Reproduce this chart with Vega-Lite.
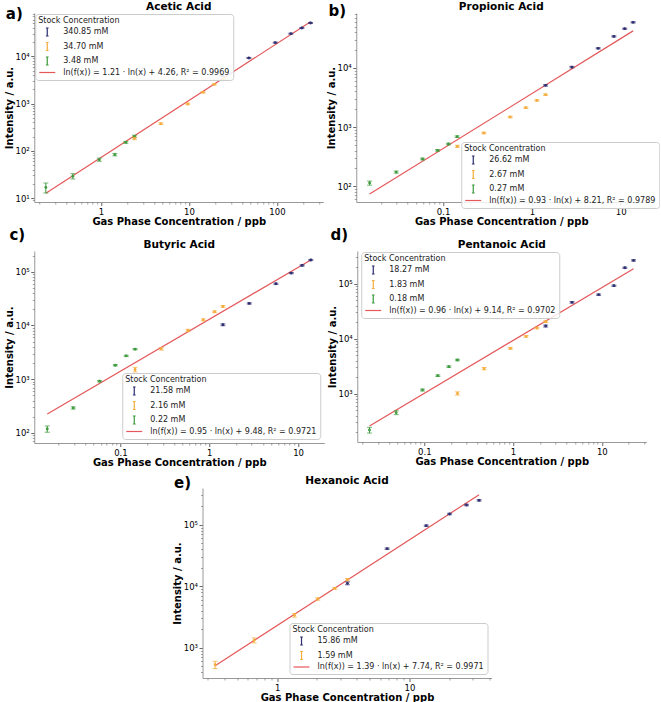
{
"$schema": "https://vega.github.io/schema/vega-lite/v6.json",
"padding": {"left": 4, "top": 2, "right": 0, "bottom": 0},
"background": "white",
"config": {
  "view": {"stroke": null},
  "font": "DejaVu Sans",
  "axis": {"labelFont": "DejaVu Sans", "labelFontSize": 8.5, "labelColor": "#000", "titleFont": "DejaVu Sans", "titleFontSize": 10, "titleFontWeight": "bold", "titleColor": "#000", "grid": false, "domainColor": "#999", "tickColor": "#666", "tickSize": 3.5, "labelPadding": 1.5, "titlePadding": 1},
  "legend": {"titleFont": "DejaVu Sans", "titleFontSize": 8, "titleFontWeight": "normal", "titleColor": "#222", "labelFont": "DejaVu Sans", "labelFontSize": 8, "labelColor": "#222", "labelLimit": 300, "fillColor": "rgba(255,255,255,0.85)", "strokeColor": "#ccc", "cornerRadius": 3, "padding": 3, "titlePadding": 3, "rowPadding": 0.5, "symbolSize": 36, "labelOffset": 17, "symbolStrokeWidth": 1.2, "symbolOpacity": 1},
  "text": {"font": "DejaVu Sans", "fontWeight": "bold", "color": "#000", "align": "center", "baseline": "middle"}
},
"center": true,
"spacing": 8,
"resolve": {"scale": {"color": "independent", "x": "independent", "y": "independent"}, "legend": {"color": "independent"}},
"vconcat": [
{"spacing": 0,
 "resolve": {"scale": {"color": "independent", "x": "independent", "y": "independent"}, "legend": {"color": "independent"}},
 "vconcat": [
 {"hconcat": [
  {"width": 289, "height": 189,
   "data": {"values": [
    {"k":"pt","s":"3.48 mM","x":0.237,"y":16.8,"lo":12.8,"hi":20.8},
    {"k":"pt","s":"3.48 mM","x":0.48,"y":29,"lo":25.3,"hi":32.8},
    {"k":"pt","s":"3.48 mM","x":0.96,"y":65,"lo":60,"hi":70},
    {"k":"pt","s":"3.48 mM","x":1.44,"y":83,"lo":78,"hi":88},
    {"k":"pt","s":"3.48 mM","x":1.92,"y":151,"lo":144,"hi":158},
    {"k":"pt","s":"3.48 mM","x":2.41,"y":202,"lo":190,"hi":214},
    {"k":"pt","s":"34.70 mM","x":2.41,"y":184,"lo":172,"hi":196},
    {"k":"pt","s":"34.70 mM","x":4.8,"y":375,"lo":360,"hi":390},
    {"k":"pt","s":"34.70 mM","x":9.7,"y":980,"lo":945,"hi":1015},
    {"k":"pt","s":"34.70 mM","x":14.5,"y":1730,"lo":1680,"hi":1780},
    {"k":"pt","s":"34.70 mM","x":19.4,"y":2550,"lo":2480,"hi":2620},
    {"k":"pt","s":"34.70 mM","x":24.6,"y":3370,"lo":3270,"hi":3470},
    {"k":"pt","s":"340.85 mM","x":23.9,"y":3960,"lo":3840,"hi":4080},
    {"k":"pt","s":"340.85 mM","x":48,"y":9220,"lo":9000,"hi":9440},
    {"k":"pt","s":"340.85 mM","x":95.7,"y":19500,"lo":19000,"hi":20000},
    {"k":"pt","s":"340.85 mM","x":144,"y":30200,"lo":29500,"hi":30900},
    {"k":"pt","s":"340.85 mM","x":192,"y":39800,"lo":38900,"hi":40700},
    {"k":"pt","s":"340.85 mM","x":241,"y":50800,"lo":49600,"hi":52000},
    {"k":"fit","s":"ln(f(x)) = 1.21 · ln(x) + 4.26, R² = 0.9969","x":0.237,"y":12.6},
    {"k":"fit","s":"ln(f(x)) = 1.21 · ln(x) + 4.26, R² = 0.9969","x":241,"y":54000}
   ]},
   "resolve": {"axis": {"x": "independent", "y": "independent"}},
   "layer": [
    {"transform": [{"filter": "datum.k=='fit'"}],
     "mark": {"type": "line", "strokeWidth": 1.2},
     "encoding": {
      "x": {"field": "x", "type": "quantitative", "scale": {"type": "log", "domain": [0.175, 336], "nice": false}, "axis": {"orient": "bottom", "title": "Gas Phase Concentration / ppb", "values": [1, 10, 100], "labelExpr": "''+datum.value"}},
      "y": {"field": "y", "type": "quantitative", "scale": {"type": "log", "domain": [8.24, 82600], "nice": false}, "axis": {"orient": "left", "title": "Intensity / a.u.", "values": [10, 100, 1000, 10000], "labelExpr": "datum.value==10?'10¹':datum.value==100?'10²':datum.value==1000?'10³':datum.value==10000?'10⁴':'10⁵'"}},
      "color": {"field": "s", "type": "nominal", "scale": {"domain": ["340.85 mM", "34.70 mM", "3.48 mM", "ln(f(x)) = 1.21 · ln(x) + 4.26, R² = 0.9969"], "range": ["#2e2e72", "#f5ac3b", "#3c9a3c", "#e4585a"]},
        "legend": {"title": "Stock Concentration", "orient": "top-left", "offset": 1,
          "encode": {"symbols": {"update": {
            "shape": {"signal": "indexof(datum.value,'ln')==0 ? 'M-1,0H4.33' : 'M1.22,-1.33H2.12M1.67,-1.33V1.33M1.22,1.33H2.12'"},
            "stroke": {"signal": "datum.value=='340.85 mM'?'#2e2e72':datum.value=='34.70 mM'?'#f5ac3b':datum.value=='3.48 mM'?'#3c9a3c':'#e4585a'"},
            "fill": {"value": "transparent"}, "strokeWidth": {"value": 1.2}, "opacity": {"value": 1}}}}}}
     }},
    {"transform": [{"filter": "datum.k=='fit'"}],
     "mark": {"type": "point", "opacity": 0},
     "encoding": {
      "x": {"field": "x", "type": "quantitative", "axis": {"orient": "bottom", "title": null, "labels": false, "domain": false, "tickSize": 2, "tickWidth": 0.6, "values": [0.2,0.3,0.4,0.5,0.6,0.7,0.8,0.9,2,3,4,5,6,7,8,9,20,30,40,50,60,70,80,90,200,300]}},
      "y": {"field": "y", "type": "quantitative", "axis": {"orient": "left", "title": null, "labels": false, "domain": false, "tickSize": 2, "tickWidth": 0.6, "values": [9,20,30,40,50,60,70,80,90,200,300,400,500,600,700,800,900,2000,3000,4000,5000,6000,7000,8000,9000,20000,30000,40000,50000,60000,70000,80000]}}
     }},
    {"transform": [{"filter": "datum.k=='pt'"}],
     "mark": {"type": "errorbar", "ticks": {"size": 5}, "thickness": 1},
     "encoding": {
      "x": {"field": "x", "type": "quantitative", "axis": null},
      "y": {"field": "lo", "type": "quantitative", "axis": null},
      "y2": {"field": "hi"},
      "color": {"field": "s", "type": "nominal"}
     }},
    {"transform": [{"filter": "datum.k=='pt'"}],
     "mark": {"type": "point", "filled": true, "size": 8, "opacity": 1},
     "encoding": {
      "x": {"field": "x", "type": "quantitative", "axis": null},
      "y": {"field": "y", "type": "quantitative", "axis": null},
      "color": {"field": "s", "type": "nominal"}
     }},
    {"data": {"values": [{"t": "Acetic Acid"}]},
     "mark": {"type": "text", "fontSize": 10.5, "dy": -6},
     "encoding": {"x": {"datum": 7.668, "type": "quantitative", "axis": null}, "y": {"datum": 82600, "type": "quantitative", "axis": null}, "text": {"field": "t"}}},
    {"data": {"values": [{"t": "a)"}]},
     "mark": {"type": "text", "fontSize": 15, "dx": -20, "dy": 0.5},
     "encoding": {"x": {"datum": 0.175, "type": "quantitative", "axis": null}, "y": {"datum": 82600, "type": "quantitative", "axis": null}, "text": {"field": "t"}}}
   ]},
  {"width": 290, "height": 189,
   "data": {"values": [
    {"k":"pt","s":"0.27 mM","x":0.0149,"y":113,"lo":104,"hi":122},
    {"k":"pt","s":"0.27 mM","x":0.0297,"y":173,"lo":166,"hi":180},
    {"k":"pt","s":"0.27 mM","x":0.0588,"y":288,"lo":278,"hi":298},
    {"k":"pt","s":"0.27 mM","x":0.0867,"y":403,"lo":390,"hi":416},
    {"k":"pt","s":"0.27 mM","x":0.115,"y":516,"lo":500,"hi":532},
    {"k":"pt","s":"0.27 mM","x":0.144,"y":687,"lo":665,"hi":709},
    {"k":"pt","s":"2.67 mM","x":0.145,"y":471,"lo":450,"hi":492},
    {"k":"pt","s":"2.67 mM","x":0.288,"y":793,"lo":770,"hi":816},
    {"k":"pt","s":"2.67 mM","x":0.57,"y":1475,"lo":1435,"hi":1515},
    {"k":"pt","s":"2.67 mM","x":0.856,"y":2120,"lo":2060,"hi":2180},
    {"k":"pt","s":"2.67 mM","x":1.14,"y":2820,"lo":2740,"hi":2900},
    {"k":"pt","s":"2.67 mM","x":1.426,"y":3520,"lo":3420,"hi":3620},
    {"k":"pt","s":"26.62 mM","x":1.426,"y":5060,"lo":4920,"hi":5200},
    {"k":"pt","s":"26.62 mM","x":2.82,"y":10300,"lo":10000,"hi":10600},
    {"k":"pt","s":"26.62 mM","x":5.58,"y":21400,"lo":20900,"hi":21900},
    {"k":"pt","s":"26.62 mM","x":8.38,"y":34000,"lo":33200,"hi":34800},
    {"k":"pt","s":"26.62 mM","x":11.1,"y":45900,"lo":44900,"hi":46900},
    {"k":"pt","s":"26.62 mM","x":13.8,"y":58800,"lo":57400,"hi":60200},
    {"k":"fit","s":"ln(f(x)) = 0.93 · ln(x) + 8.21, R² = 0.9789","x":0.0149,"y":73.6},
    {"k":"fit","s":"ln(f(x)) = 0.93 · ln(x) + 8.21, R² = 0.9789","x":13.8,"y":42200}
   ]},
   "resolve": {"axis": {"x": "independent", "y": "independent"}},
   "layer": [
    {"transform": [{"filter": "datum.k=='fit'"}],
     "mark": {"type": "line", "strokeWidth": 1.2},
     "encoding": {
      "x": {"field": "x", "type": "quantitative", "scale": {"type": "log", "domain": [0.01054, 19.4], "nice": false}, "axis": {"orient": "bottom", "title": "Gas Phase Concentration / ppb", "values": [0.1, 1, 10], "labelExpr": "''+datum.value"}},
      "y": {"field": "y", "type": "quantitative", "scale": {"type": "log", "domain": [54, 84600], "nice": false}, "axis": {"orient": "left", "title": "Intensity / a.u.", "values": [100, 1000, 10000], "labelExpr": "datum.value==10?'10¹':datum.value==100?'10²':datum.value==1000?'10³':datum.value==10000?'10⁴':'10⁵'"}},
      "color": {"field": "s", "type": "nominal", "scale": {"domain": ["26.62 mM", "2.67 mM", "0.27 mM", "ln(f(x)) = 0.93 · ln(x) + 8.21, R² = 0.9789"], "range": ["#2e2e72", "#f5ac3b", "#3c9a3c", "#e4585a"]},
        "legend": {"title": "Stock Concentration", "orient": "none", "legendX": 105, "legendY": 129,
          "encode": {"symbols": {"update": {
            "shape": {"signal": "indexof(datum.value,'ln')==0 ? 'M-1,0H4.33' : 'M1.22,-1.33H2.12M1.67,-1.33V1.33M1.22,1.33H2.12'"},
            "stroke": {"signal": "datum.value=='26.62 mM'?'#2e2e72':datum.value=='2.67 mM'?'#f5ac3b':datum.value=='0.27 mM'?'#3c9a3c':'#e4585a'"},
            "fill": {"value": "transparent"}, "strokeWidth": {"value": 1.2}, "opacity": {"value": 1}}}}}}
     }},
    {"transform": [{"filter": "datum.k=='fit'"}],
     "mark": {"type": "point", "opacity": 0},
     "encoding": {
      "x": {"field": "x", "type": "quantitative", "axis": {"orient": "bottom", "title": null, "labels": false, "domain": false, "tickSize": 2, "tickWidth": 0.6, "values": [0.02,0.03,0.04,0.05,0.06,0.07,0.08,0.09,0.2,0.3,0.4,0.5,0.6,0.7,0.8,0.9,2,3,4,5,6,7,8,9]}},
      "y": {"field": "y", "type": "quantitative", "axis": {"orient": "left", "title": null, "labels": false, "domain": false, "tickSize": 2, "tickWidth": 0.6, "values": [60,70,80,90,200,300,400,500,600,700,800,900,2000,3000,4000,5000,6000,7000,8000,9000,20000,30000,40000,50000,60000,70000,80000]}}
     }},
    {"transform": [{"filter": "datum.k=='pt'"}],
     "mark": {"type": "errorbar", "ticks": {"size": 5}, "thickness": 1},
     "encoding": {
      "x": {"field": "x", "type": "quantitative", "axis": null},
      "y": {"field": "lo", "type": "quantitative", "axis": null},
      "y2": {"field": "hi"},
      "color": {"field": "s", "type": "nominal"}
     }},
    {"transform": [{"filter": "datum.k=='pt'"}],
     "mark": {"type": "point", "filled": true, "size": 8, "opacity": 1},
     "encoding": {
      "x": {"field": "x", "type": "quantitative", "axis": null},
      "y": {"field": "y", "type": "quantitative", "axis": null},
      "color": {"field": "s", "type": "nominal"}
     }},
    {"data": {"values": [{"t": "Propionic Acid"}]},
     "mark": {"type": "text", "fontSize": 10.5, "dy": -6},
     "encoding": {"x": {"datum": 0.4522, "type": "quantitative", "axis": null}, "y": {"datum": 84600, "type": "quantitative", "axis": null}, "text": {"field": "t"}}},
    {"data": {"values": [{"t": "b)"}]},
     "mark": {"type": "text", "fontSize": 15, "dx": -19, "dy": -2},
     "encoding": {"x": {"datum": 0.01054, "type": "quantitative", "axis": null}, "y": {"datum": 84600, "type": "quantitative", "axis": null}, "text": {"field": "t"}}}
   ]}
 ], "spacing": 2, "resolve": {"scale": {"color": "independent", "x": "independent", "y": "independent"}, "legend": {"color": "independent"}}},
 {"hconcat": [
  {"width": 290, "height": 192,
   "data": {"values": [
    {"k":"pt","s":"0.22 mM","x":0.015,"y":119,"lo":103,"hi":135},
    {"k":"pt","s":"0.22 mM","x":0.0294,"y":292,"lo":278,"hi":306},
    {"k":"pt","s":"0.22 mM","x":0.0582,"y":919,"lo":890,"hi":948},
    {"k":"pt","s":"0.22 mM","x":0.0875,"y":1820,"lo":1765,"hi":1875},
    {"k":"pt","s":"0.22 mM","x":0.116,"y":2720,"lo":2640,"hi":2800},
    {"k":"pt","s":"0.22 mM","x":0.146,"y":3620,"lo":3520,"hi":3720},
    {"k":"pt","s":"2.16 mM","x":0.146,"y":1515,"lo":1370,"hi":1660},
    {"k":"pt","s":"2.16 mM","x":0.288,"y":3670,"lo":3480,"hi":3860},
    {"k":"pt","s":"2.16 mM","x":0.575,"y":8070,"lo":7650,"hi":8490},
    {"k":"pt","s":"2.16 mM","x":0.856,"y":12750,"lo":12200,"hi":13300},
    {"k":"pt","s":"2.16 mM","x":1.148,"y":18000,"lo":17300,"hi":18700},
    {"k":"pt","s":"2.16 mM","x":1.425,"y":22600,"lo":21700,"hi":23500},
    {"k":"pt","s":"21.58 mM","x":1.425,"y":10300,"lo":9900,"hi":10700},
    {"k":"pt","s":"21.58 mM","x":2.82,"y":25700,"lo":25000,"hi":26400},
    {"k":"pt","s":"21.58 mM","x":5.63,"y":59700,"lo":58000,"hi":61400},
    {"k":"pt","s":"21.58 mM","x":8.38,"y":94400,"lo":91800,"hi":97000},
    {"k":"pt","s":"21.58 mM","x":11.1,"y":131000,"lo":127500,"hi":134500},
    {"k":"pt","s":"21.58 mM","x":13.9,"y":165000,"lo":160500,"hi":169500},
    {"k":"fit","s":"ln(f(x)) = 0.95 · ln(x) + 9.48, R² = 0.9721","x":0.015,"y":225},
    {"k":"fit","s":"ln(f(x)) = 0.95 · ln(x) + 9.48, R² = 0.9721","x":13.9,"y":165000}
   ]},
   "resolve": {"axis": {"x": "independent", "y": "independent"}},
   "layer": [
    {"transform": [{"filter": "datum.k=='fit'"}],
     "mark": {"type": "line", "strokeWidth": 1.2},
     "encoding": {
      "x": {"field": "x", "type": "quantitative", "scale": {"type": "log", "domain": [0.0107, 19.7], "nice": false}, "axis": {"orient": "bottom", "title": "Gas Phase Concentration / ppb", "values": [0.1, 1, 10], "labelExpr": "''+datum.value"}},
      "y": {"field": "y", "type": "quantitative", "scale": {"type": "log", "domain": [65, 243000], "nice": false}, "axis": {"orient": "left", "title": "Intensity / a.u.", "values": [100, 1000, 10000, 100000], "labelExpr": "datum.value==10?'10¹':datum.value==100?'10²':datum.value==1000?'10³':datum.value==10000?'10⁴':'10⁵'"}},
      "color": {"field": "s", "type": "nominal", "scale": {"domain": ["21.58 mM", "2.16 mM", "0.22 mM", "ln(f(x)) = 0.95 · ln(x) + 9.48, R² = 0.9721"], "range": ["#2e2e72", "#f5ac3b", "#3c9a3c", "#e4585a"]},
        "legend": {"title": "Stock Concentration", "orient": "bottom-right", "offset": 4,
          "encode": {"symbols": {"update": {
            "shape": {"signal": "indexof(datum.value,'ln')==0 ? 'M-1,0H4.33' : 'M1.22,-1.33H2.12M1.67,-1.33V1.33M1.22,1.33H2.12'"},
            "stroke": {"signal": "datum.value=='21.58 mM'?'#2e2e72':datum.value=='2.16 mM'?'#f5ac3b':datum.value=='0.22 mM'?'#3c9a3c':'#e4585a'"},
            "fill": {"value": "transparent"}, "strokeWidth": {"value": 1.2}, "opacity": {"value": 1}}}}}}
     }},
    {"transform": [{"filter": "datum.k=='fit'"}],
     "mark": {"type": "point", "opacity": 0},
     "encoding": {
      "x": {"field": "x", "type": "quantitative", "axis": {"orient": "bottom", "title": null, "labels": false, "domain": false, "tickSize": 2, "tickWidth": 0.6, "values": [0.02,0.03,0.04,0.05,0.06,0.07,0.08,0.09,0.2,0.3,0.4,0.5,0.6,0.7,0.8,0.9,2,3,4,5,6,7,8,9]}},
      "y": {"field": "y", "type": "quantitative", "axis": {"orient": "left", "title": null, "labels": false, "domain": false, "tickSize": 2, "tickWidth": 0.6, "values": [70,80,90,200,300,400,500,600,700,800,900,2000,3000,4000,5000,6000,7000,8000,9000,20000,30000,40000,50000,60000,70000,80000,90000,200000]}}
     }},
    {"transform": [{"filter": "datum.k=='pt'"}],
     "mark": {"type": "errorbar", "ticks": {"size": 5}, "thickness": 1},
     "encoding": {
      "x": {"field": "x", "type": "quantitative", "axis": null},
      "y": {"field": "lo", "type": "quantitative", "axis": null},
      "y2": {"field": "hi"},
      "color": {"field": "s", "type": "nominal"}
     }},
    {"transform": [{"filter": "datum.k=='pt'"}],
     "mark": {"type": "point", "filled": true, "size": 8, "opacity": 1},
     "encoding": {
      "x": {"field": "x", "type": "quantitative", "axis": null},
      "y": {"field": "y", "type": "quantitative", "axis": null},
      "color": {"field": "s", "type": "nominal"}
     }},
    {"data": {"values": [{"t": "Butyric Acid"}]},
     "mark": {"type": "text", "fontSize": 10.5, "dy": -6},
     "encoding": {"x": {"datum": 0.4591, "type": "quantitative", "axis": null}, "y": {"datum": 243000, "type": "quantitative", "axis": null}, "text": {"field": "t"}}},
    {"data": {"values": [{"t": "c)"}]},
     "mark": {"type": "text", "fontSize": 15, "dx": -17, "dy": -16.5},
     "encoding": {"x": {"datum": 0.0107, "type": "quantitative", "axis": null}, "y": {"datum": 243000, "type": "quantitative", "axis": null}, "text": {"field": "t"}}}
   ]},
  {"width": 289, "height": 191,
   "data": {"values": [
    {"k":"pt","s":"0.18 mM","x":0.0241,"y":218,"lo":192,"hi":244},
    {"k":"pt","s":"0.18 mM","x":0.0482,"y":452,"lo":415,"hi":489},
    {"k":"pt","s":"0.18 mM","x":0.0954,"y":1166,"lo":1120,"hi":1212},
    {"k":"pt","s":"0.18 mM","x":0.142,"y":2120,"lo":2050,"hi":2190},
    {"k":"pt","s":"0.18 mM","x":0.189,"y":3100,"lo":3000,"hi":3200},
    {"k":"pt","s":"0.18 mM","x":0.236,"y":4090,"lo":3960,"hi":4220},
    {"k":"pt","s":"1.83 mM","x":0.236,"y":1010,"lo":940,"hi":1080},
    {"k":"pt","s":"1.83 mM","x":0.472,"y":2850,"lo":2710,"hi":2990},
    {"k":"pt","s":"1.83 mM","x":0.933,"y":6670,"lo":6400,"hi":6940},
    {"k":"pt","s":"1.83 mM","x":1.4,"y":11000,"lo":10600,"hi":11400},
    {"k":"pt","s":"1.83 mM","x":1.86,"y":15600,"lo":15100,"hi":16100},
    {"k":"pt","s":"1.83 mM","x":2.33,"y":20400,"lo":19700,"hi":21100},
    {"k":"pt","s":"18.27 mM","x":2.33,"y":17000,"lo":16300,"hi":17700},
    {"k":"pt","s":"18.27 mM","x":4.62,"y":45800,"lo":44300,"hi":47300},
    {"k":"pt","s":"18.27 mM","x":9.21,"y":63100,"lo":61300,"hi":64900},
    {"k":"pt","s":"18.27 mM","x":13.7,"y":92000,"lo":89500,"hi":94500},
    {"k":"pt","s":"18.27 mM","x":18.2,"y":195000,"lo":190000,"hi":200000},
    {"k":"pt","s":"18.27 mM","x":22.8,"y":265000,"lo":258000,"hi":272000},
    {"k":"fit","s":"ln(f(x)) = 0.96 · ln(x) + 9.14, R² = 0.9702","x":0.0241,"y":258},
    {"k":"fit","s":"ln(f(x)) = 0.96 · ln(x) + 9.14, R² = 0.9702","x":22.8,"y":187000}
   ]},
   "resolve": {"axis": {"x": "independent", "y": "independent"}},
   "layer": [
    {"transform": [{"filter": "datum.k=='fit'"}],
     "mark": {"type": "line", "strokeWidth": 1.2},
     "encoding": {
      "x": {"field": "x", "type": "quantitative", "scale": {"type": "log", "domain": [0.01754, 31.7], "nice": false}, "axis": {"orient": "bottom", "title": "Gas Phase Concentration / ppb", "values": [0.1, 1, 10], "labelExpr": "''+datum.value"}},
      "y": {"field": "y", "type": "quantitative", "scale": {"type": "log", "domain": [132, 393000], "nice": false}, "axis": {"orient": "left", "title": "Intensity / a.u.", "values": [1000, 10000, 100000], "labelExpr": "datum.value==10?'10¹':datum.value==100?'10²':datum.value==1000?'10³':datum.value==10000?'10⁴':'10⁵'"}},
      "color": {"field": "s", "type": "nominal", "scale": {"domain": ["18.27 mM", "1.83 mM", "0.18 mM", "ln(f(x)) = 0.96 · ln(x) + 9.14, R² = 0.9702"], "range": ["#2e2e72", "#f5ac3b", "#3c9a3c", "#e4585a"]},
        "legend": {"title": "Stock Concentration", "orient": "none", "legendX": 4, "legendY": 1,
          "encode": {"symbols": {"update": {
            "shape": {"signal": "indexof(datum.value,'ln')==0 ? 'M-1,0H4.33' : 'M1.22,-1.33H2.12M1.67,-1.33V1.33M1.22,1.33H2.12'"},
            "stroke": {"signal": "datum.value=='18.27 mM'?'#2e2e72':datum.value=='1.83 mM'?'#f5ac3b':datum.value=='0.18 mM'?'#3c9a3c':'#e4585a'"},
            "fill": {"value": "transparent"}, "strokeWidth": {"value": 1.2}, "opacity": {"value": 1}}}}}}
     }},
    {"transform": [{"filter": "datum.k=='fit'"}],
     "mark": {"type": "point", "opacity": 0},
     "encoding": {
      "x": {"field": "x", "type": "quantitative", "axis": {"orient": "bottom", "title": null, "labels": false, "domain": false, "tickSize": 2, "tickWidth": 0.6, "values": [0.02,0.03,0.04,0.05,0.06,0.07,0.08,0.09,0.2,0.3,0.4,0.5,0.6,0.7,0.8,0.9,2,3,4,5,6,7,8,9,20,30]}},
      "y": {"field": "y", "type": "quantitative", "axis": {"orient": "left", "title": null, "labels": false, "domain": false, "tickSize": 2, "tickWidth": 0.6, "values": [200,300,400,500,600,700,800,900,2000,3000,4000,5000,6000,7000,8000,9000,20000,30000,40000,50000,60000,70000,80000,90000,200000,300000]}}
     }},
    {"transform": [{"filter": "datum.k=='pt'"}],
     "mark": {"type": "errorbar", "ticks": {"size": 5}, "thickness": 1},
     "encoding": {
      "x": {"field": "x", "type": "quantitative", "axis": null},
      "y": {"field": "lo", "type": "quantitative", "axis": null},
      "y2": {"field": "hi"},
      "color": {"field": "s", "type": "nominal"}
     }},
    {"transform": [{"filter": "datum.k=='pt'"}],
     "mark": {"type": "point", "filled": true, "size": 8, "opacity": 1},
     "encoding": {
      "x": {"field": "x", "type": "quantitative", "axis": null},
      "y": {"field": "y", "type": "quantitative", "axis": null},
      "color": {"field": "s", "type": "nominal"}
     }},
    {"data": {"values": [{"t": "Pentanoic Acid"}]},
     "mark": {"type": "text", "fontSize": 10.5, "dy": -6},
     "encoding": {"x": {"datum": 0.7457, "type": "quantitative", "axis": null}, "y": {"datum": 393000, "type": "quantitative", "axis": null}, "text": {"field": "t"}}},
    {"data": {"values": [{"t": "d)"}]},
     "mark": {"type": "text", "fontSize": 15, "dx": -18, "dy": -16.5},
     "encoding": {"x": {"datum": 0.01754, "type": "quantitative", "axis": null}, "y": {"datum": 393000, "type": "quantitative", "axis": null}, "text": {"field": "t"}}}
   ]}
 ], "spacing": 2, "resolve": {"scale": {"color": "independent", "x": "independent", "y": "independent"}, "legend": {"color": "independent"}}}
 ]},
 {"width": 289, "height": 190,
  "data": {"values": [
    {"k":"pt","s":"1.59 mM","x":0.34,"y":532,"lo":460,"hi":604},
    {"k":"pt","s":"1.59 mM","x":0.67,"y":1324,"lo":1200,"hi":1448},
    {"k":"pt","s":"1.59 mM","x":1.352,"y":3380,"lo":3150,"hi":3610},
    {"k":"pt","s":"1.59 mM","x":2.03,"y":6220,"lo":5950,"hi":6490},
    {"k":"pt","s":"1.59 mM","x":2.73,"y":9280,"lo":8950,"hi":9610},
    {"k":"pt","s":"1.59 mM","x":3.4,"y":12800,"lo":12200,"hi":13400},
    {"k":"pt","s":"15.86 mM","x":3.4,"y":11200,"lo":10600,"hi":11800},
    {"k":"pt","s":"15.86 mM","x":6.78,"y":40900,"lo":39800,"hi":42000},
    {"k":"pt","s":"15.86 mM","x":13.4,"y":96800,"lo":94300,"hi":99300},
    {"k":"pt","s":"15.86 mM","x":20.1,"y":150000,"lo":146000,"hi":154000},
    {"k":"pt","s":"15.86 mM","x":27,"y":210000,"lo":204000,"hi":216000},
    {"k":"pt","s":"15.86 mM","x":33.6,"y":250000,"lo":243000,"hi":257000},
    {"k":"fit","s":"ln(f(x)) = 1.39 · ln(x) + 7.74, R² = 0.9971","x":0.34,"y":513},
    {"k":"fit","s":"ln(f(x)) = 1.39 · ln(x) + 7.74, R² = 0.9971","x":33.6,"y":309000}
  ]},
  "resolve": {"axis": {"x": "independent", "y": "independent"}},
  "layer": [
    {"transform": [{"filter": "datum.k=='fit'"}],
     "mark": {"type": "line", "strokeWidth": 1.2},
     "encoding": {
      "x": {"field": "x", "type": "quantitative", "scale": {"type": "log", "domain": [0.273, 41.7], "nice": false}, "axis": {"orient": "bottom", "title": "Gas Phase Concentration / ppb", "values": [1, 10], "labelExpr": "''+datum.value"}},
      "y": {"field": "y", "type": "quantitative", "scale": {"type": "log", "domain": [323, 397000], "nice": false}, "axis": {"orient": "left", "title": "Intensity / a.u.", "values": [1000, 10000, 100000], "labelExpr": "datum.value==10?'10¹':datum.value==100?'10²':datum.value==1000?'10³':datum.value==10000?'10⁴':'10⁵'"}},
      "color": {"field": "s", "type": "nominal", "scale": {"domain": ["15.86 mM", "1.59 mM", "ln(f(x)) = 1.39 · ln(x) + 7.74, R² = 0.9971"], "range": ["#2e2e72", "#f5ac3b", "#e4585a"]},
        "legend": {"title": "Stock Concentration", "orient": "bottom-right", "offset": 4,
          "encode": {"symbols": {"update": {
            "shape": {"signal": "indexof(datum.value,'ln')==0 ? 'M-1,0H4.33' : 'M1.22,-1.33H2.12M1.67,-1.33V1.33M1.22,1.33H2.12'"},
            "stroke": {"signal": "datum.value=='15.86 mM'?'#2e2e72':datum.value=='1.59 mM'?'#f5ac3b':'#e4585a'"},
            "fill": {"value": "transparent"}, "strokeWidth": {"value": 1.2}, "opacity": {"value": 1}}}}}}
     }},
    {"transform": [{"filter": "datum.k=='fit'"}],
     "mark": {"type": "point", "opacity": 0},
     "encoding": {
      "x": {"field": "x", "type": "quantitative", "axis": {"orient": "bottom", "title": null, "labels": false, "domain": false, "tickSize": 2, "tickWidth": 0.6, "values": [0.3,0.4,0.5,0.6,0.7,0.8,0.9,2,3,4,5,6,7,8,9,20,30,40]}},
      "y": {"field": "y", "type": "quantitative", "axis": {"orient": "left", "title": null, "labels": false, "domain": false, "tickSize": 2, "tickWidth": 0.6, "values": [400,500,600,700,800,900,2000,3000,4000,5000,6000,7000,8000,9000,20000,30000,40000,50000,60000,70000,80000,90000,200000,300000]}}
     }},
    {"transform": [{"filter": "datum.k=='pt'"}],
     "mark": {"type": "errorbar", "ticks": {"size": 5}, "thickness": 1},
     "encoding": {
      "x": {"field": "x", "type": "quantitative", "axis": null},
      "y": {"field": "lo", "type": "quantitative", "axis": null},
      "y2": {"field": "hi"},
      "color": {"field": "s", "type": "nominal"}
     }},
    {"transform": [{"filter": "datum.k=='pt'"}],
     "mark": {"type": "point", "filled": true, "size": 8, "opacity": 1},
     "encoding": {
      "x": {"field": "x", "type": "quantitative", "axis": null},
      "y": {"field": "y", "type": "quantitative", "axis": null},
      "color": {"field": "s", "type": "nominal"}
     }},
    {"data": {"values": [{"t": "Hexanoic Acid"}]},
     "mark": {"type": "text", "fontSize": 10.5, "dy": -6.7},
     "encoding": {"x": {"datum": 3.374, "type": "quantitative", "axis": null}, "y": {"datum": 397000, "type": "quantitative", "axis": null}, "text": {"field": "t"}}},
    {"data": {"values": [{"t": "e)"}]},
     "mark": {"type": "text", "fontSize": 15, "dx": -20, "dy": -5},
     "encoding": {"x": {"datum": 0.273, "type": "quantitative", "axis": null}, "y": {"datum": 397000, "type": "quantitative", "axis": null}, "text": {"field": "t"}}},
    {"data": {"values": [{"t": "."}]},
     "mark": {"type": "text", "fontSize": 10, "dx": -58, "align": "right", "opacity": 0},
     "encoding": {"x": {"datum": 0.273, "type": "quantitative", "axis": null}, "y": {"datum": 323, "type": "quantitative", "axis": null}, "text": {"field": "t"}}}
  ]}
]
}
